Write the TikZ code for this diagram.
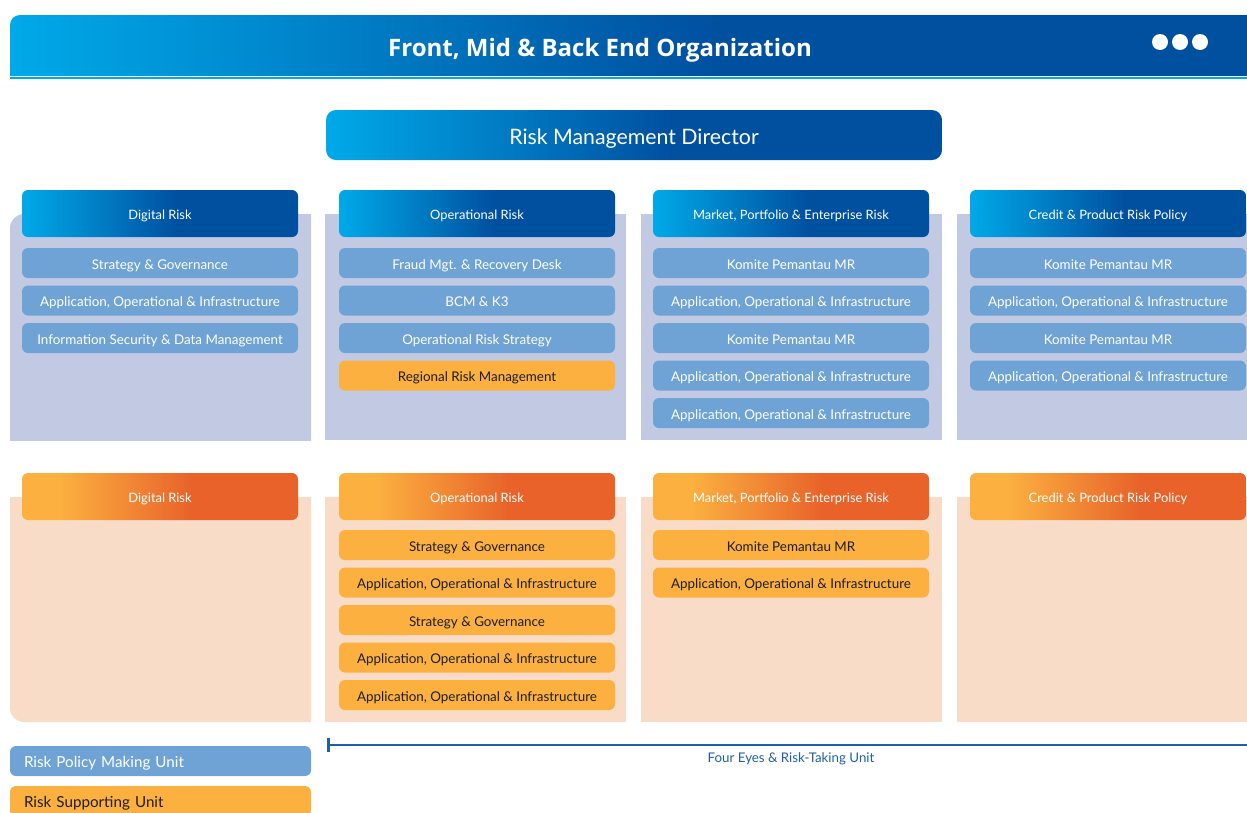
\documentclass[tikz,border=0pt]{standalone}
\usepackage{fontspec}
\setmainfont{Lato}
\newfontfamily\titlefont{Open Sans}
\usetikzlibrary{arrows.meta,positioning}
\definecolor{SkyCyan}{HTML}{00A9E8}
\definecolor{DeepBlue}{HTML}{0050A0}
\definecolor{Lavender}{HTML}{C2CAE3}
\definecolor{ItemBlue}{HTML}{6FA3D6}
\definecolor{Amber}{HTML}{FBB040}
\definecolor{Ember}{HTML}{E8622A}
\definecolor{Peach}{HTML}{F9DCC8}
\definecolor{InkText}{HTML}{1E1E1E}
\definecolor{RuleBlue}{HTML}{1F5FA8}
\pgfdeclarehorizontalshading{blueband}{100bp}{color(0bp)=(SkyCyan); color(25bp)=(SkyCyan); color(53bp)=(DeepBlue); color(100bp)=(DeepBlue)}
\pgfdeclarehorizontalshading{orangeband}{100bp}{color(0bp)=(Amber); color(32bp)=(Amber); color(56bp)=(Ember); color(100bp)=(Ember)}

\begin{document}
\begin{tikzpicture}[
  x=1pt,y=-1pt,
  head/.style={shading=blueband,rounded corners=6pt,minimum width=276pt,minimum height=47pt,inner sep=0pt,text=white,text height=12.5pt,text depth=0.5pt,font=\fontsize{12.9}{15}\selectfont},
  warmhead/.style={head,shading=orangeband},
  item/.style={fill=ItemBlue,rounded corners=6pt,minimum width=276pt,minimum height=30pt,inner sep=0pt,text=white,text height=12.5pt,text depth=0.5pt,font=\fontsize{13.4}{15}\selectfont},
  warmitem/.style={item,fill=Amber,text=InkText},
  keybox/.style={rounded corners=6pt,text width=273pt,inner xsep=14pt,inner ysep=0pt,minimum height=30pt,text height=14pt,text depth=0.5pt,align=left,font=\fontsize{15.2}{17}\selectfont},
  rule/.style={{Bar[width=14pt]}-,line width=2.5pt,RuleBlue}
]
\useasboundingbox (0,0) rectangle (1247,812);

% title band
\begin{scope}
  \clip (0,0) rectangle (1247,75);
  \shade[shading=blueband,rounded corners=10pt] (10,15) rectangle (1267,95);
\end{scope}
\fill[SkyCyan] (10,77) rectangle (1247,79);
\node[text=white,text height=22pt,text depth=0pt,font=\titlefont\bfseries\fontsize{24}{27}\selectfont] (title) at (600,45) {Front, Mid \& Back End Organization};
\foreach \dx [count=\i] in {1160,1180,1200}
  \fill[white] (\dx,42) circle (8pt) coordinate (dot\i);

% director
\node[shading=blueband,rounded corners=10pt,minimum width=616pt,minimum height=50pt,inner sep=0pt,text=white,text height=20pt,text depth=0.5pt,font=\fontsize{21.3}{24}\selectfont] (director) at (634,135) {Risk Management Director};

% panels, upper row
\begin{scope}
  \clip (10,214) rectangle (311,440);
  \fill[Lavender,rounded corners=14pt] (10,214) rectangle (331,460);
\end{scope}
\fill[Lavender] (325,214) rectangle (626,440);
\fill[Lavender] (641,214) rectangle (942,440);
\fill[Lavender] (957,214) rectangle (1247,440);

% panels, lower row
\begin{scope}
  \clip (10,497) rectangle (311,722);
  \fill[Peach,rounded corners=14pt] (10,477) rectangle (331,722);
\end{scope}
\fill[Peach] (325,497) rectangle (626,722);
\fill[Peach] (641,497) rectangle (942,722);
\fill[Peach] (957,497) rectangle (1247,722);

% policy making units
\node[head] (digital) at (160,213.5) {Digital Risk};
\node[item] (dig1) at (160,263) {Strategy \& Governance};
\node[item] (dig2) at (160,300.5) {Application, Operational \& Infrastructure};
\node[item] (dig3) at (160,338) {Information Security \& Data Management};

\node[head] (oprisk) at (477,213.5) {Operational Risk};
\node[item] (op1) at (477,263) {Fraud Mgt. \& Recovery Desk};
\node[item] (op2) at (477,300.5) {BCM \& K3};
\node[item] (op3) at (477,338) {Operational Risk Strategy};
\node[warmitem] (op4) at (477,375.5) {Regional Risk Management};

\node[head] (market) at (791,213.5) {Market, Portfolio \& Enterprise Risk};
\node[item] (mk1) at (791,263) {Komite Pemantau MR};
\node[item] (mk2) at (791,300.5) {Application, Operational \& Infrastructure};
\node[item] (mk3) at (791,338) {Komite Pemantau MR};
\node[item] (mk4) at (791,375.5) {Application, Operational \& Infrastructure};
\node[item] (mk5) at (791,413) {Application, Operational \& Infrastructure};

\node[head] (credit) at (1108,213.5) {Credit \& Product Risk Policy};
\node[item] (cr1) at (1108,263) {Komite Pemantau MR};
\node[item] (cr2) at (1108,300.5) {Application, Operational \& Infrastructure};
\node[item] (cr3) at (1108,338) {Komite Pemantau MR};
\node[item] (cr4) at (1108,375.5) {Application, Operational \& Infrastructure};

% risk-taking units
\node[warmhead] (digitalT) at (160,496.5) {Digital Risk};

\node[warmhead] (opriskT) at (477,496.5) {Operational Risk};
\node[warmitem] (opT1) at (477,545) {Strategy \& Governance};
\node[warmitem] (opT2) at (477,582.5) {Application, Operational \& Infrastructure};
\node[warmitem] (opT3) at (477,620) {Strategy \& Governance};
\node[warmitem] (opT4) at (477,657.5) {Application, Operational \& Infrastructure};
\node[warmitem] (opT5) at (477,695) {Application, Operational \& Infrastructure};

\node[warmhead] (marketT) at (791,496.5) {Market, Portfolio \& Enterprise Risk};
\node[warmitem] (mkT1) at (791,545) {Komite Pemantau MR};
\node[warmitem] (mkT2) at (791,582.5) {Application, Operational \& Infrastructure};

\node[warmhead] (creditT) at (1108,496.5) {Credit \& Product Risk Policy};

% legend
\node[keybox,fill=ItemBlue,text=white] (policykey) at (160.5,761) {Risk Policy Making Unit};
\node[keybox,fill=Amber,text=InkText] (supportkey) at (160.5,801) {Risk Supporting Unit};
\coordinate (ruleL) at (327,745);
\coordinate (ruleR) at (1247,745);
\draw[rule] (ruleL) -- (ruleR);
\node[text=RuleBlue,font=\fontsize{13.3}{15}\selectfont] (fourEyes) at (791,759) {Four Eyes \& Risk-Taking Unit};
\end{tikzpicture}
\end{document}
